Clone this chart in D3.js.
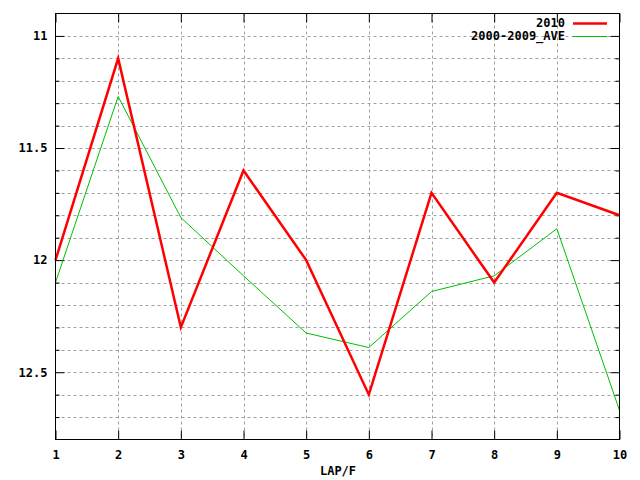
<!DOCTYPE html>
<html><head><meta charset="utf-8">
<script src="https://cdn.jsdelivr.net/npm/d3@7"></script>
<style>body{margin:0;background:#fff}svg{display:block}text{font-family:"DejaVu Sans Mono",monospace;font-weight:bold;font-size:12px;fill:#000}</style>
</head><body><svg id="c" width="640" height="480"></svg>
<script>
const laps = [1,2,3,4,5,6,7,8,9,10];
const s2010 = [12.0,11.1,12.3,11.6,12.0,12.6,11.7,12.1,11.7,11.8];
const sAve = [12.10,11.27,11.81,12.07,12.325,12.39,12.14,12.07,11.86,12.67];
const yTicks = [11,11.5,12,12.5];
const yGrid = [11,11.1,11.2,11.3,11.4,11.5,11.6,11.7,11.8,11.9,12,12.1,12.2,12.3,12.4,12.5,12.6,12.7];
const seriesNames = ["2010","2000-2009_AVE"];

const svg = d3.select("#c");
const L=55.5,R=619.5,T=13.5,B=439.5;
const x = d3.scaleLinear().domain([1,10]).range([L,R]);
const y = d3.scaleLinear().domain([10.9,12.8]).range([T,B]);

const grid = svg.append("g").attr("stroke","#a0a0a0").attr("stroke-dasharray","3,3").attr("stroke-width",1);
laps.slice(1,-1).forEach(v=>grid.append("line").attr("x1",Math.round(x(v))+0.5).attr("x2",Math.round(x(v))+0.5).attr("y1",T).attr("y2",B));
yGrid.forEach(v=>grid.append("line").attr("y1",Math.round(y(v))+0.5).attr("y2",Math.round(y(v))+0.5).attr("x1",L).attr("x2",R));

const ax = svg.append("g");
const bx = d3.axisBottom(x).tickValues(laps).tickSize(-9).tickFormat(d3.format("d"));
ax.append("g").attr("transform",`translate(0,${B})`).call(bx).call(g=>{g.select(".domain").remove();g.selectAll("text").attr("dy","1.1em").attr("y",6);});
ax.append("g").attr("transform",`translate(0,${T})`).call(d3.axisTop(x).tickValues(laps).tickSize(-9).tickFormat("")).call(g=>g.select(".domain").remove());
const minorY = yGrid.filter(v=>!yTicks.includes(v));
ax.append("g").attr("transform",`translate(${L},0)`).call(d3.axisLeft(y).tickValues(yTicks).tickSize(-9).tickFormat(d=>String(d))).call(g=>{g.select(".domain").remove();g.selectAll("text").attr("x",-8);});
ax.append("g").attr("transform",`translate(${L},0)`).call(d3.axisLeft(y).tickValues(minorY).tickSize(-4).tickFormat("")).call(g=>g.select(".domain").remove());
ax.append("g").attr("transform",`translate(${R},0)`).call(d3.axisRight(y).tickValues(yTicks).tickSize(-9).tickFormat("")).call(g=>g.select(".domain").remove());
ax.append("g").attr("transform",`translate(${R},0)`).call(d3.axisRight(y).tickValues(minorY).tickSize(-4).tickFormat("")).call(g=>g.select(".domain").remove());
ax.selectAll("text").style("font-family","'DejaVu Sans Mono',monospace").style("font-weight","bold").style("font-size","12px").attr("fill","#000");
ax.selectAll("line").attr("stroke","#000");

const line = d3.line().x((d,i)=>x(laps[i])).y(d=>y(d));
svg.append("path").datum(sAve).attr("d",line).attr("fill","none").attr("stroke","#00c000").attr("stroke-width",1);
svg.append("path").datum(s2010).attr("d",line).attr("fill","none").attr("stroke","#ff0000").attr("stroke-width",2.5);

svg.append("rect").attr("x",L).attr("y",T).attr("width",R-L).attr("height",B-T).attr("fill","none").attr("stroke","#000").attr("stroke-width",1);

const colors=["#ff0000","#00c000"], widths=[2.5,1];
seriesNames.forEach((n,i)=>{
  const yy=23+i*13;
  svg.append("text").attr("x",565).attr("y",yy).attr("dy","0.35em").attr("text-anchor","end").text(n);
  svg.append("line").attr("x1",573).attr("x2",607).attr("y1",yy+0.5).attr("y2",yy+0.5).attr("stroke",colors[i]).attr("stroke-width",widths[i]);
});
svg.append("text").attr("x",338).attr("y",475).attr("text-anchor","middle").text("LAP/F");
</script></body></html>
